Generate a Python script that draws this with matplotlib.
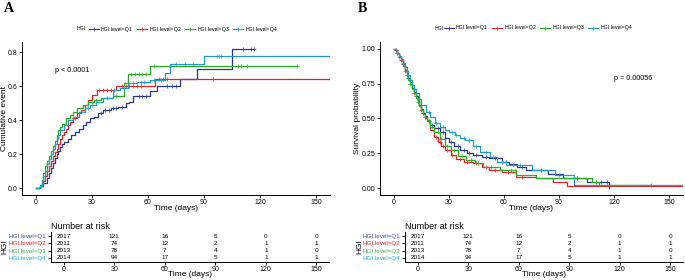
import numpy as np
import matplotlib
matplotlib.use("Agg")
import matplotlib.pyplot as plt
from matplotlib.lines import Line2D

plt.rcParams["font.family"] = ["Liberation Sans", "DejaVu Sans"]

groups = ["HGI.level=Q1", "HGI.level=Q2", "HGI.level=Q3", "HGI.level=Q4"]
colors = ["#283593", "#ee1c25", "#22b022", "#1f9ac9"]
label_colors = ["#3953a4", "#ee1c25", "#3cb44a", "#27aae1"]
time_ticks = [0, 30, 60, 90, 120, 150]

# Panel A: cumulative event (step times, step values, end of follow-up)
a_q1_t = [0, 2, 4, 6, 7, 8, 9, 10, 11, 12, 13, 14, 15, 17, 19, 21, 23, 25, 27, 29, 31, 33, 36, 40, 44, 48, 50, 52, 61, 65, 77, 86.5, 105]
a_q1_v = [0, 0.01, 0.03, 0.06, 0.09, 0.12, 0.15, 0.18, 0.20, 0.22, 0.24, 0.26, 0.27, 0.29, 0.31, 0.33, 0.35, 0.37, 0.39, 0.41, 0.42, 0.44, 0.46, 0.47, 0.48, 0.50, 0.51, 0.54, 0.57, 0.60, 0.64, 0.70, 0.82]
a_q2_t = [0, 2, 4, 5, 6, 7, 8, 9, 10, 11, 12, 13, 14, 15, 16, 17, 18, 20, 22, 24, 26, 28, 30, 32.5, 43, 64]
a_q2_v = [0, 0.01, 0.04, 0.07, 0.10, 0.13, 0.16, 0.19, 0.21, 0.23, 0.26, 0.29, 0.31, 0.33, 0.35, 0.37, 0.39, 0.41, 0.44, 0.46, 0.49, 0.52, 0.55, 0.58, 0.60, 0.645]
a_q3_t = [0, 2, 3, 4, 5, 6, 7, 8, 9, 10, 11, 12, 13, 14, 16, 18, 20, 22, 25, 28, 31, 35, 41, 47, 49.5, 61]
a_q3_v = [0, 0.02, 0.05, 0.09, 0.13, 0.16, 0.19, 0.22, 0.25, 0.28, 0.31, 0.34, 0.36, 0.38, 0.41, 0.43, 0.45, 0.47, 0.49, 0.51, 0.52, 0.53, 0.54, 0.62, 0.67, 0.72]
a_q4_t = [0, 2, 3, 4, 5, 6, 7, 8, 9, 10, 11, 12, 13, 15, 17, 20, 23, 26, 29, 32, 36, 41.5, 45, 49.5, 54, 61, 69, 72, 90]
a_q4_v = [0, 0.01, 0.04, 0.07, 0.10, 0.14, 0.17, 0.20, 0.23, 0.26, 0.29, 0.31, 0.34, 0.37, 0.40, 0.42, 0.45, 0.47, 0.49, 0.51, 0.53, 0.58, 0.59, 0.62, 0.625, 0.635, 0.68, 0.73, 0.78]
a_end = [117, 157, 140, 157]

a_q1_cens = [35, 37, 39, 41, 43, 46, 55, 57, 59, 70, 73, 75, 111, 115, 117]
a_q2_cens = [20, 21, 34, 36, 38, 40, 46, 48, 50, 52, 54, 56, 66, 68, 70, 95]
a_q3_cens = [30, 32, 43, 51, 53, 55, 57, 59, 63, 108, 110, 113, 140]
a_q4_cens = [28, 30, 38, 42, 47, 52, 56, 58, 63, 67, 75, 80, 84, 97, 98, 99]

# Panel B: survival probability
b_q1_t = [0, 1, 2, 3, 4, 5, 6, 7, 8, 9, 10, 11, 12, 13, 14, 15, 16, 17, 18, 20, 22, 25, 28, 30, 33, 36, 40, 43, 48, 52, 59, 63, 67, 72, 84, 92, 105.4, 117]
b_q1_v = [1.0, 0.99, 0.97, 0.95, 0.92, 0.89, 0.85, 0.82, 0.79, 0.76, 0.72, 0.69, 0.66, 0.63, 0.60, 0.57, 0.54, 0.52, 0.49, 0.45, 0.43, 0.40, 0.36, 0.33, 0.30, 0.27, 0.25, 0.24, 0.225, 0.215, 0.19, 0.17, 0.153, 0.13, 0.10, 0.07, 0.04, 0.0]
b_q2_t = [0, 1, 2, 3, 4, 5, 6, 7, 8, 9, 10, 11, 12, 13, 14, 15, 16, 17, 18, 20, 22, 24, 26, 28, 31, 34, 38, 43, 48, 52, 59, 66.7, 77.5, 86.6, 94.5]
b_q2_v = [1.0, 0.99, 0.97, 0.95, 0.92, 0.88, 0.85, 0.81, 0.78, 0.75, 0.71, 0.68, 0.65, 0.62, 0.59, 0.56, 0.53, 0.50, 0.48, 0.42, 0.37, 0.33, 0.30, 0.27, 0.24, 0.21, 0.19, 0.18, 0.15, 0.13, 0.117, 0.08, 0.07, 0.045, 0.015]
b_q3_t = [0, 1, 2, 3, 4, 5, 6, 7, 8, 9, 10, 11, 12, 13, 14, 15, 16, 17, 18, 20, 22, 25, 28, 31, 35, 39.5, 44, 48.6, 57.7, 66.7, 77.5, 108, 112]
b_q3_v = [1.0, 0.99, 0.97, 0.94, 0.91, 0.88, 0.84, 0.81, 0.78, 0.75, 0.71, 0.68, 0.65, 0.62, 0.59, 0.56, 0.53, 0.51, 0.49, 0.44, 0.40, 0.35, 0.30, 0.27, 0.23, 0.20, 0.18, 0.153, 0.13, 0.094, 0.07, 0.045, 0.02]
b_q4_t = [0, 1, 2, 3, 4, 5, 6, 7, 8, 9, 10, 11, 12, 13.5, 15, 17.3, 20, 22.7, 25, 28, 30, 33.5, 36, 39, 43, 47, 52.3, 56, 61.4, 75.5, 88, 98]
b_q4_v = [1.0, 0.99, 0.97, 0.95, 0.93, 0.90, 0.87, 0.84, 0.81, 0.78, 0.74, 0.71, 0.68, 0.64, 0.60, 0.55, 0.51, 0.47, 0.44, 0.42, 0.40, 0.38, 0.36, 0.345, 0.30, 0.26, 0.225, 0.19, 0.165, 0.13, 0.094, 0.025]
b_end = [117, 157, 140, 157]

b_q1_cens = [2, 5, 8, 12, 16, 21, 24, 27, 31, 35, 38, 41, 45, 50, 55, 61, 70, 80, 100, 110, 113, 116]
b_q2_cens = [1, 4, 7, 11, 15, 19, 23, 25, 27, 29, 32, 36, 40, 45, 50, 55, 62, 70]
b_q3_cens = [3, 6, 9, 13, 17, 21, 24, 26, 29, 33, 37, 42, 46, 53, 64, 100, 140]
b_q4_cens = [2, 5, 8, 11, 14, 19, 23, 27, 32, 34, 38, 41, 45, 50, 54, 59, 65, 69, 90]

# Number at risk
risk_q1 = [2017, 121, 16, 5, 0, 0]
risk_q2 = [2011, 74, 12, 2, 1, 1]
risk_q3 = [2013, 78, 7, 4, 1, 0]
risk_q4 = [2014, 94, 17, 5, 1, 1]


def style_axes(ax):
    for side in ["top", "right"]:
        ax.spines[side].set_visible(False)
    for side in ["left", "bottom"]:
        ax.spines[side].set_linewidth(0.7)
    ax.tick_params(length=2, width=0.6, labelsize=5, pad=1.2)


def draw_curves(ax, curves, cens, ends):
    for (t, v), ct, end, col in zip(curves, cens, ends, colors):
        t = np.array(t + [end])
        v = np.array(v + [v[-1]])
        ax.step(t, v, where="post", color=col, lw=0.9)
        ct = np.array(ct)
        cv = v[np.searchsorted(t, ct, side="right") - 1]
        ax.plot(ct, cv, "+", color=col, ms=3, mew=0.5)
    ax.set_xlim(-7.5, 157.5)
    ax.set_xticks(time_ticks)
    ax.set_xlabel("Time (days)", fontsize=6)
    ax.xaxis.set_label_coords(0.5, -0.068)
    style_axes(ax)


def draw_risk(ax, rows, ylab_x):
    for i, row in enumerate(rows):
        y = 4 - i
        for x, n in zip(time_ticks, row):
            ax.text(x, y, str(n), ha="center", va="center", fontsize=4.6)
    ax.set_xlim(-7.5, 157.5)
    ax.set_ylim(0.4, 4.6)
    ax.set_xticks(time_ticks)
    ax.set_yticks([4, 3, 2, 1])
    ax.set_yticklabels(groups)
    style_axes(ax)
    ax.tick_params(axis="y", labelsize=4.5)
    for lab, col in zip(ax.get_yticklabels(), label_colors):
        lab.set_color(col)
    ax.set_ylabel("HGI", fontsize=6)
    ax.yaxis.set_label_coords(ylab_x, 0.5)
    ax.set_xlabel("Time (days)", fontsize=6)
    ax.xaxis.set_label_coords(0.5, -0.3)
    ax.set_title("Number at risk", fontsize=6.5, loc="left", pad=2)


def add_legend(fig, x_title, x_center, y):
    handles = [Line2D([], [], color=c, lw=0.8, marker="+", ms=3, mew=0.5) for c in colors]
    fig.text(x_title, y, "HGI", fontsize=3.8, va="center")
    fig.legend(handles, groups, loc="center", bbox_to_anchor=(x_center, y), ncol=4,
               frameon=False, fontsize=3.8, handlelength=1.9, handletextpad=0.4,
               columnspacing=0.8, borderpad=0)


fig = plt.figure(figsize=(6.85, 2.8), dpi=100)

# Panel A
ax_a = fig.add_axes([0.0321, 0.3036, 0.4496, 0.5464])
draw_curves(ax_a, [(a_q1_t, a_q1_v), (a_q2_t, a_q2_v), (a_q3_t, a_q3_v), (a_q4_t, a_q4_v)],
            [a_q1_cens, a_q2_cens, a_q3_cens, a_q4_cens], a_end)
ax_a.set_ylim(-0.041, 0.861)
ax_a.set_yticks([0.0, 0.2, 0.4, 0.6, 0.8])
ax_a.set_yticklabels(["0.0", "0.2", "0.4", "0.6", "0.8"])
ax_a.set_ylabel("Cumulative event", fontsize=6)
ax_a.yaxis.set_label_coords(-0.044, 0.5)
ax_a.text(10.4, 0.694, "p < 0.0001", fontsize=5.2, va="center")

risk_a = fig.add_axes([0.0745, 0.0643, 0.4058, 0.1071])
draw_risk(risk_a, [risk_q1, risk_q2, risk_q3, risk_q4], -0.153)

# Panel B
ax_b = fig.add_axes([0.5547, 0.3036, 0.4423, 0.5464])
draw_curves(ax_b, [(b_q1_t, b_q1_v), (b_q2_t, b_q2_v), (b_q3_t, b_q3_v), (b_q4_t, b_q4_v)],
            [b_q1_cens, b_q2_cens, b_q3_cens, b_q4_cens], b_end)
ax_b.set_ylim(-0.05, 1.05)
ax_b.set_yticks([0.0, 0.25, 0.5, 0.75, 1.0])
ax_b.set_yticklabels(["0.00", "0.25", "0.50", "0.75", "1.00"])
ax_b.set_ylabel("Survival probability", fontsize=6)
ax_b.yaxis.set_label_coords(-0.061, 0.5)
ax_b.text(120, 0.79, "p = 0.00056", fontsize=5.2, va="center")

risk_b = fig.add_axes([0.5912, 0.0643, 0.4058, 0.1071])
draw_risk(risk_b, [risk_q1, risk_q2, risk_q3, risk_q4], -0.149)

# Legends and panel letters
add_legend(fig, 77 / 685, 183 / 685, 1 - 29 / 280)
add_legend(fig, 435 / 685, 538 / 685, 1 - 28 / 280)
fig.text(4 / 685, 1 - 8 / 280, "A", fontsize=10, fontweight="bold",
         family="Liberation Serif", va="center")
fig.text(358 / 685, 1 - 8 / 280, "B", fontsize=10, fontweight="bold",
         family="Liberation Serif", va="center")

fig.savefig("out.png", dpi=100)
plt.close(fig)
